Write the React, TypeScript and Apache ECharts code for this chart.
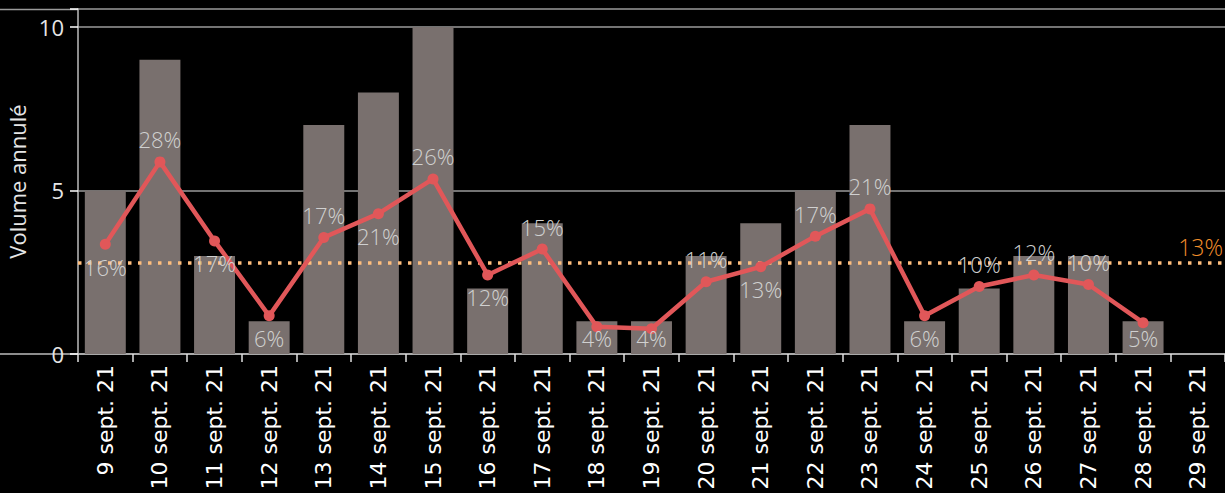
import React, { useEffect, useRef } from "react";
import * as echarts from "echarts";

const CATEGORIES = [
  "9 sept. 21", "10 sept. 21", "11 sept. 21", "12 sept. 21", "13 sept. 21",
  "14 sept. 21", "15 sept. 21", "16 sept. 21", "17 sept. 21", "18 sept. 21",
  "19 sept. 21", "20 sept. 21", "21 sept. 21", "22 sept. 21", "23 sept. 21",
  "24 sept. 21", "25 sept. 21", "26 sept. 21", "27 sept. 21", "28 sept. 21",
  "29 sept. 21",
];

// Volume annulé (bars)
const VOLUMES: (number | null)[] = [5, 9, 3, 1, 7, 8, 10, 2, 4, 1, 1, 3, 4, 5, 7, 1, 2, 3, 3, 1, null];

// Taux d'annulation en % (line)
const RATES: (number | null)[] = [
  16.1, 28.2, 16.6, 5.6, 17.1, 20.6, 25.7, 11.6, 15.4, 4.0, 3.7, 10.6, 12.8,
  17.3, 21.3, 5.6, 9.9, 11.6, 10.2, 4.6, null,
];

// Label side for each rate point
const LABEL_SIDE = [
  "bottom", "top", "bottom", "bottom", "top", "bottom", "top", "bottom", "top",
  "bottom", "bottom", "top", "bottom", "top", "top", "bottom", "top", "top",
  "top", "bottom", "top",
];

const AVERAGE_RATE = 13.4;

const Y_TICKS = [0, 5, 10];
const Y_MAX = 10.55;
const RATE_PER_UNIT = 4.8; // secondary axis: 10 units <-> 48 %

const LABEL_DISTANCE = 6;
const SYMBOL_SIZE = 11;
const LABEL_FONT = 22;

export default function App() {
  const ref = useRef<HTMLDivElement>(null);

  useEffect(() => {
    document.body.style.margin = "0";
    document.body.style.background = "#000";
    if (!ref.current) return;
    const chart = echarts.init(ref.current, undefined, { renderer: "svg" });

    const gridColor = "#9a9a9a";
    const axisColor = "#bdbdbd";

    const lineData = (distances?: number[]) =>
      RATES.map((v, i) => ({
        value: v,
        label: {
          position: LABEL_SIDE[i],
          distance: distances ? distances[i] : LABEL_DISTANCE,
        },
      }));

    chart.setOption({
      animation: false,
      backgroundColor: "#000000",
      grid: {
        left: 78,
        right: 0,
        top: 9,
        bottom: 139,
        containLabel: false,
        outerBoundsMode: "none",
      },
      xAxis: {
        type: "category",
        data: CATEGORIES,
        boundaryGap: true,
        axisLine: { show: true, lineStyle: { color: axisColor, width: 1.5 } },
        axisTick: { show: true, length: 8, lineStyle: { color: "#e0e0e0", width: 1.5 } },
        axisLabel: {
          interval: 0,
          rotate: 90,
          margin: 11,
          color: "#ffffff",
          fontFamily: "DejaVu Sans",
          fontSize: 22,
        },
        splitLine: { show: false },
      },
      yAxis: [
        {
          type: "value",
          min: 0,
          max: Y_MAX,
          interval: 5,
          name: "Volume annulé",
          nameLocation: "middle",
          nameRotate: 90,
          nameGap: 49,
          nameTextStyle: { color: "#e6e6e6", fontFamily: "Open Sans", fontSize: 22 },
          axisLine: { show: true, lineStyle: { color: axisColor, width: 1.5 } },
          axisTick: { show: true, length: 8, lineStyle: { color: "#ffffff", width: 1.5 } },
          axisLabel: {
            margin: 14,
            color: "#e6e6e6",
            fontFamily: "Open Sans",
            fontSize: 22,
            formatter: (v: number) => (Y_TICKS.indexOf(v) >= 0 ? String(v) : ""),
          },
          splitLine: { show: true, lineStyle: { color: gridColor, width: 1.5 } },
        },
        {
          type: "value",
          min: 0,
          max: Y_MAX * RATE_PER_UNIT,
          show: false,
          splitLine: { show: false },
        },
      ],
      series: [
        {
          type: "bar",
          data: VOLUMES,
          yAxisIndex: 0,
          barCategoryGap: "25%",
          itemStyle: { color: "#79706e" },
          z: 1,
        },
        {
          type: "line",
          data: lineData(),
          yAxisIndex: 1,
          symbol: "circle",
          symbolSize: SYMBOL_SIZE,
          lineStyle: { color: "#e15759", width: 4.5 },
          itemStyle: { color: "#e15759" },
          label: {
            show: true,
            color: "#d0d0d0",
            fontFamily: "Open Sans",
            fontWeight: 300,
            fontSize: LABEL_FONT,
            formatter: (p: any) => Math.round(p.value) + "%",
          },
          z: 3,
          markLine: {
            silent: true,
            symbol: "none",
            data: [{ yAxis: AVERAGE_RATE }],
            lineStyle: { color: "#ffbe7d", width: 3.5, type: [3.5, 6.5] },
            label: {
              show: true,
              position: "insideEndTop",
              distance: [2, 4],
              color: "#f28e2b",
              fontFamily: "Open Sans",
              fontWeight: 300,
              fontSize: 23,
              formatter: () => Math.round(AVERAGE_RATE) + "%",
            },
            z: 2,
          },
        },
      ],
      graphic: [
        { type: "line", shape: { x1: 0, y1: 9.5, x2: 78, y2: 9.5 }, style: { stroke: gridColor, lineWidth: 1.5 } },
        { type: "line", shape: { x1: 0, y1: 354, x2: 78, y2: 354 }, style: { stroke: axisColor, lineWidth: 1.5 } },
      ],
    });

    // Keep labels below points inside the plotting pane (like Tableau does).
    const axisY = chart.convertToPixel({ seriesIndex: 1 }, [0, 0]) as number[];
    const distances = RATES.map((v, i) => {
      if (v == null || LABEL_SIDE[i] !== "bottom") return LABEL_DISTANCE;
      const p = chart.convertToPixel({ seriesIndex: 1 }, [i, v]) as number[];
      const maxCenter = axisY[1] - 16;
      const d = maxCenter - p[1] - SYMBOL_SIZE / 2 - LABEL_FONT / 2;
      return Math.min(LABEL_DISTANCE, d);
    });
    chart.setOption({ series: [{}, { data: lineData(distances) }] });

    return () => chart.dispose();
  }, []);

  return (
    <div
      ref={ref}
      style={{ position: "fixed", left: 0, top: 0, width: 1225, height: 493 }}
    />
  );
}
